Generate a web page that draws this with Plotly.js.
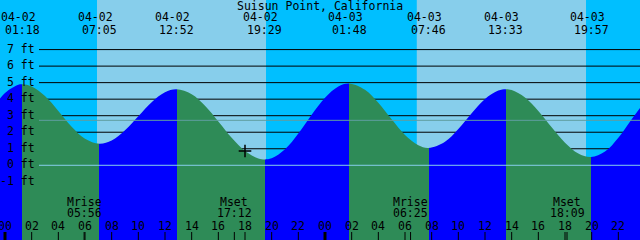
<!DOCTYPE html>
<html><head><meta charset="utf-8">
<script src="https://cdn.plot.ly/plotly-3.0.1.min.js"></script>
<style>html,body{margin:0;padding:0;background:#fff;}#chart{width:640px;height:240px;}</style>
</head><body><div id="chart"></div>
<script>
// ---------------- DATA ----------------
const stationName = "Suisun Point, California";
// tide height (ft), one reading per hour, starting at 04-02 00:00 minus 1 hour
const hourlyStartHour = -1;
const hourlyHeights = [3.37, 4.37, 4.87, 4.77, 4.19, 3.29, 2.33, 1.60, 1.30, 1.50,
  2.12, 2.97, 3.82, 4.42, 4.60, 4.30, 3.60, 2.65, 1.66, 0.86,
  0.41, 0.42, 0.97, 1.93, 3.06, 4.09, 4.77, 4.94, 4.57, 3.78,
  2.78, 1.83, 1.21, 1.06, 1.43, 2.20, 3.15, 4.01, 4.52, 4.55,
  4.10, 3.29, 2.30, 1.37, 0.72, 0.50, 0.83, 1.67, 2.79, 3.88];
// high / low tides
const extremeTimes = ["04-02 01:18", "04-02 07:05", "04-02 12:52", "04-02 19:29",
                      "04-03 01:48", "04-03 07:46", "04-03 13:33", "04-03 19:57"];
const extremeHeights = [4.90, 1.30, 4.60, 0.35, 4.95, 1.05, 4.60, 0.50];
const extremeKinds = ["high", "low", "high", "low", "high", "low", "high", "low"];
// sunrise / sunset
const sunTimes = ["04-02 06:54", "04-02 19:35", "04-03 06:53", "04-03 19:35"];
const sunKinds = ["rise", "set", "rise", "set"];
// moon
const moonNames = ["Mrise", "Mset", "Mrise", "Mset"];
const moonTimes = ["04-02 05:56", "04-02 17:12", "04-03 06:25", "04-03 18:09"];
// y grid
const gridLevels = [7, 6, 5, 4, 3, 2, 1];
const yLabelLevels = [7, 6, 5, 4, 3, 2, 1, 0, -1];
const mslLevel = 2.72;
const datumLevel = 0;
// "now" marker
const nowTime = "04-02 18:00";
const nowHeight = 0.86;
// hour ticks (hours from 04-02 00:00)
const hourTickVals = [0, 2, 4, 6, 8, 10, 12, 14, 16, 18, 20, 22, 24, 26, 28, 30, 32, 34, 36, 38, 40, 42, 44, 46, 48];
const hourTickText = ["00","02","04","06","08","10","12","14","16","18","20","22","00","02","04","06","08","10","12","14","16","18","20","22","00"];
const midnightVals = [0, 24, 48];

// ---------------- HELPERS ----------------
const W = 640, H = 240;
const xRange = [-0.375, 47.625];
const yRange = [-4.52, 10.0];
const FONT = {family: "DejaVu Sans Mono, monospace", size: 11.5, color: "#000"};
const COL = {night: "#00BFFF", day: "#87CEEB", flood: "#0000FF", ebb: "#2E8B57",
             grid: "#000000", msl: "#5F9EA0", datum: "#87CEEB"};
function toH(s) {
  const [d, t] = s.split(" ");
  const day = parseInt(d.split("-")[1], 10);
  const [hh, mm] = t.split(":").map(Number);
  return (day - 2) * 24 + hh + mm / 60;
}
const py = p => 1 - p / H;   // pixel from top -> paper
const px = p => p / W;

// ---------------- WATER ----------------
const exH = extremeTimes.map(toH);
let pts = hourlyHeights.map((v, i) => ({h: hourlyStartHour + i, v}))
  .filter(p => exH.every(e => Math.abs(e - p.h) > 0.3));
exH.forEach((h, i) => pts.push({h, v: extremeHeights[i]}));
pts.sort((a, b) => a.h - b.h);
const firstH = pts[0].h, lastH = pts[pts.length - 1].h;
const bottom = yRange[0] - 2;

// horizontal colour bands: flood (rising) / ebb (falling), switching at each extreme
const span = lastH - firstH;
const cs = [];
const bands = [firstH, ...exH, lastH];
for (let s = 0; s < bands.length - 1; s++) {
  const endKind = s < extremeKinds.length ? extremeKinds[s] : null;
  const rising = endKind ? endKind === "high" : extremeKinds[s - 1] === "low";
  const c = rising ? COL.flood : COL.ebb;
  const a = (bands[s] - firstH) / span, b = (bands[s + 1] - firstH) / span;
  cs.push([s === 0 ? 0 : a + 1e-6, c]);
  cs.push([s === bands.length - 2 ? 1 : b, c]);
}

const traces = [
  {type: "scatter", mode: "lines", x: [firstH, lastH], y: [bottom, bottom],
   line: {width: 0, color: "rgba(0,0,0,0)"}, hoverinfo: "skip"},
  {type: "scatter", mode: "lines", x: pts.map(p => p.h), y: pts.map(p => p.v),
   fill: "tonexty", line: {width: 0, shape: "spline", smoothing: 1, color: "rgba(0,0,0,0)"},
   fillcolor: COL.flood,
   fillgradient: {type: "horizontal", start: firstH, stop: lastH, colorscale: cs},
   hoverinfo: "skip"},
  {type: "scatter", mode: "markers", x: [toH(nowTime)], y: [nowHeight],
   marker: {symbol: "cross-thin", size: 9, line: {width: 1.5, color: "#000"}}, hoverinfo: "skip"}
];

// ---------------- SHAPES ----------------
const shapes = [];
const sunH = sunTimes.map(toH);
const skyB = [-2, ...sunH, 50];
for (let i = 0; i < skyB.length - 1; i++) {
  const isDay = i > 0 && sunKinds[i - 1] === "rise";
  shapes.push({type: "rect", layer: "below", xref: "x", yref: "paper",
    x0: skyB[i], x1: skyB[i + 1], y0: 0, y1: 1, line: {width: 0},
    fillcolor: isDay ? COL.day : COL.night});
}
gridLevels.forEach(v => shapes.push({type: "line", layer: "below", xref: "paper", yref: "y",
  x0: px(39), x1: 1, y0: v, y1: v, line: {color: COL.grid, width: 1}}));
shapes.push({type: "line", layer: "above", xref: "paper", yref: "y",
  x0: px(39), x1: 1, y0: mslLevel, y1: mslLevel, line: {color: COL.msl, width: 1}});
shapes.push({type: "line", layer: "above", xref: "paper", yref: "y",
  x0: px(39), x1: 1, y0: datumLevel, y1: datumLevel, line: {color: COL.datum, width: 1}});
hourTickVals.forEach(h => shapes.push({type: "line", layer: "above", xref: "x", yref: "paper",
  x0: h, x1: h, y0: 0, y1: 8 / H, line: {color: "#000", width: midnightVals.includes(h) ? 3 : 1}}));
moonTimes.forEach(t => shapes.push({type: "line", layer: "above", xref: "x", yref: "paper",
  x0: toH(t), x1: toH(t), y0: 0, y1: 8 / H, line: {color: "#000", width: 1}}));

// ---------------- ANNOTATIONS ----------------
const ann = [];
const A = (o) => ann.push(Object.assign({showarrow: false, font: FONT, borderpad: 0}, o));
A({text: stationName, xref: "paper", yref: "paper", x: 0.5, y: py(6), xanchor: "center", yanchor: "middle"});
extremeTimes.forEach((t, i) => {
  const [d, tm] = t.split(" ");
  A({text: d, xref: "x", yref: "paper", x: exH[i], y: py(17.5), xanchor: "center", yanchor: "middle", xshift: -4});
  A({text: tm, xref: "x", yref: "paper", x: exH[i], y: py(30), xanchor: "center", yanchor: "middle"});
});
yLabelLevels.forEach(v => A({text: v + " ft", xref: "paper", yref: "y", x: px(36), y: v,
  xanchor: "right", yanchor: "middle", yshift: 1}));
moonTimes.forEach((t, i) => {
  A({text: moonNames[i], xref: "x", yref: "paper", x: toH(t), y: py(201.5), xanchor: "center", yanchor: "middle"});
  A({text: t.split(" ")[1], xref: "x", yref: "paper", x: toH(t), y: py(213), xanchor: "center", yanchor: "middle"});
});
hourTickVals.forEach((h, i) => A({text: hourTickText[i], xref: "x", yref: "paper", x: h, y: py(225.5),
  xanchor: "center", yanchor: "middle"}));

const layout = {
  width: W, height: H, margin: {l: 0, r: 0, t: 0, b: 0, pad: 0},
  paper_bgcolor: COL.night, plot_bgcolor: COL.night, showlegend: false,
  xaxis: {range: xRange, visible: false, fixedrange: true},
  yaxis: {range: yRange, visible: false, fixedrange: true},
  shapes, annotations: ann
};
Plotly.newPlot("chart", traces, layout, {staticPlot: true, displayModeBar: false});
</script>
</body></html>
